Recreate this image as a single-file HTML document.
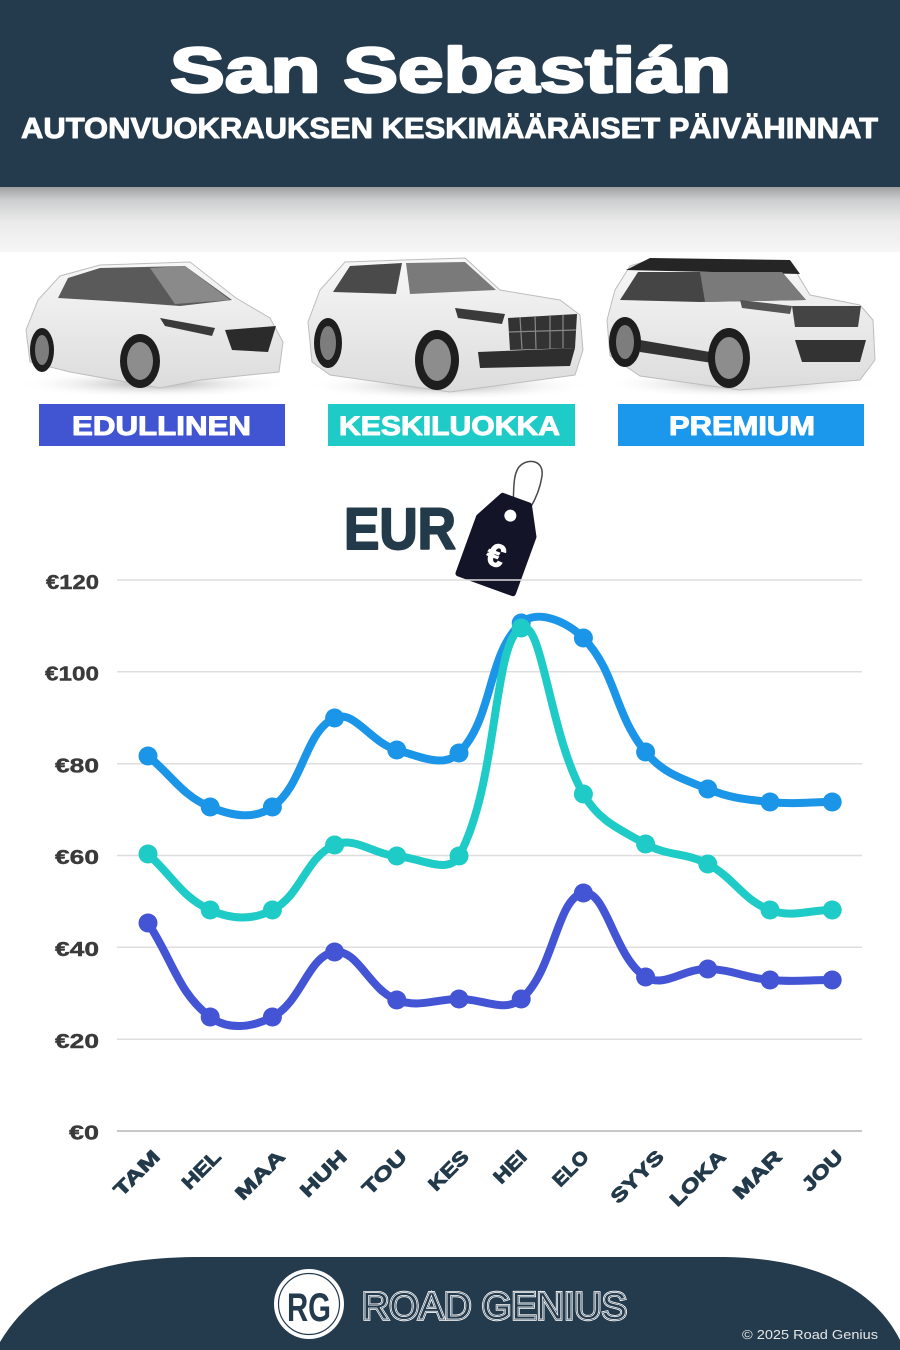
<!DOCTYPE html>
<html><head><meta charset="utf-8"><style>
html,body{margin:0;padding:0;background:#fff;}
svg{display:block;}
</style></head><body>
<svg width="900" height="1350" viewBox="0 0 900 1350" xmlns="http://www.w3.org/2000/svg">
<defs>
<linearGradient id="band" x1="0" y1="0" x2="0" y2="1">
<stop offset="0" stop-color="#9ea0a2"/>
<stop offset="0.2" stop-color="#cdcecf"/>
<stop offset="0.55" stop-color="#ebebeb"/>
<stop offset="1" stop-color="#f6f6f6"/>
</linearGradient>
<radialGradient id="shadow" cx="0.5" cy="0.5" r="0.5">
<stop offset="0" stop-color="#9a9a9a" stop-opacity="0.8"/>
<stop offset="1" stop-color="#ffffff" stop-opacity="0"/>
</radialGradient>
<linearGradient id="body" x1="0" y1="0" x2="0" y2="1">
<stop offset="0" stop-color="#f7f7f7"/>
<stop offset="1" stop-color="#dcdcdc"/>
</linearGradient>
</defs>

<!-- header -->
<rect x="0" y="0" width="900" height="187" fill="#243a4d"/>
<rect x="0" y="187" width="900" height="65" fill="url(#band)"/>
<text x="170" y="92" font-family="Liberation Sans, sans-serif" font-weight="bold" font-size="63" fill="#fff" stroke="#fff" stroke-width="2.6" stroke-linejoin="round" textLength="561" lengthAdjust="spacingAndGlyphs">San Sebastián</text>
<text x="21" y="138" font-family="Liberation Sans, sans-serif" font-weight="bold" font-size="29" fill="#fff" stroke="#fff" stroke-width="0.9" stroke-linejoin="round" textLength="857" lengthAdjust="spacingAndGlyphs">AUTONVUOKRAUKSEN KESKIMÄÄRÄISET PÄIVÄHINNAT</text>

<!-- car shadows -->
<ellipse cx="155" cy="384" rx="140" ry="14" fill="url(#shadow)"/>
<ellipse cx="447" cy="386" rx="145" ry="14" fill="url(#shadow)"/>
<ellipse cx="742" cy="384" rx="140" ry="14" fill="url(#shadow)"/>

<!-- car 1 -->
<g>
<path d="M30,362 L26,330 L38,300 L60,276 L100,265 L190,262 L236,298 L270,318 L283,342 L279,372 L200,380 L160,388 L70,372 Z" fill="url(#body)" stroke="#bdbdbd" stroke-width="1"/>
<path d="M58,298 L68,278 L100,268 L185,266 L232,300 L180,306 L125,302 Z" fill="#5a5a5a"/>
<path d="M150,268 L185,266 L230,300 L175,304 Z" fill="#8a8a8a"/>
<path d="M225,330 L276,326 L268,352 L232,350 Z" fill="#2b2b2b"/>
<path d="M160,318 L215,328 L212,336 L165,326 Z" fill="#3a3a3a"/>
<ellipse cx="140" cy="361" rx="20" ry="27" fill="#1e1e1e"/>
<ellipse cx="140" cy="361" rx="13" ry="19" fill="#8d8d8d"/>
<ellipse cx="42" cy="350" rx="12" ry="22" fill="#1e1e1e"/>
<ellipse cx="42" cy="350" rx="7" ry="15" fill="#7d7d7d"/>
</g>

<!-- car 2 -->
<g>
<path d="M312,362 L308,322 L320,290 L345,262 L465,258 L500,290 L560,300 L580,315 L583,350 L575,375 L450,392 L330,375 Z" fill="url(#body)" stroke="#bdbdbd" stroke-width="1"/>
<path d="M333,292 L350,266 L402,263 L396,294 Z" fill="#4a4a4a"/>
<path d="M406,263 L465,262 L496,290 L410,294 Z" fill="#7a7a7a"/>
<path d="M508,318 L577,314 L575,348 L510,350 Z" fill="#333"/>
<path d="M520,317 L522,349 M535,316 L536,349 M550,315 L550,349 M563,315 L563,348 M509,332 L576,330" stroke="#888" stroke-width="1.2"/>
<path d="M455,308 L505,314 L502,324 L458,318 Z" fill="#3a3a3a"/>
<path d="M478,352 L575,348 L570,366 L480,368 Z" fill="#2e2e2e"/>
<ellipse cx="437" cy="360" rx="22" ry="30" fill="#1e1e1e"/>
<ellipse cx="437" cy="360" rx="14" ry="21" fill="#8d8d8d"/>
<ellipse cx="328" cy="343" rx="14" ry="25" fill="#1e1e1e"/>
<ellipse cx="328" cy="343" rx="8" ry="17" fill="#7d7d7d"/>
</g>

<!-- car 3 -->
<g>
<path d="M610,356 L607,320 L615,290 L630,266 L650,260 L790,262 L810,295 L860,305 L873,320 L875,360 L860,380 L740,390 L640,376 Z" fill="url(#body)" stroke="#bdbdbd" stroke-width="1"/>
<path d="M626,270 L650,258 L790,260 L800,274 Z" fill="#252525"/>
<path d="M620,300 L638,272 L782,272 L806,300 L700,302 Z" fill="#454545"/>
<path d="M700,272 L782,272 L806,300 L705,302 Z" fill="#7a7a7a"/>
<path d="M792,306 L861,306 L858,327 L795,327 Z" fill="#444"/>
<path d="M740,300 L792,306 L790,314 L742,308 Z" fill="#555"/>
<path d="M640,340 L745,358 L745,368 L640,352 Z" fill="#333"/>
<path d="M795,340 L866,340 L860,362 L802,362 Z" fill="#333"/>
<ellipse cx="729" cy="358" rx="21" ry="30" fill="#1e1e1e"/>
<ellipse cx="729" cy="358" rx="14" ry="21" fill="#8d8d8d"/>
<ellipse cx="625" cy="342" rx="16" ry="25" fill="#1e1e1e"/>
<ellipse cx="625" cy="342" rx="9" ry="17" fill="#7d7d7d"/>
</g>

<!-- category boxes -->
<rect x="39" y="404" width="246" height="42" fill="#4155d2"/>
<rect x="328" y="404" width="247" height="42" fill="#1ecbc7"/>
<rect x="618" y="404" width="246" height="42" fill="#1b98ec"/>
<g font-family="Liberation Sans, sans-serif" font-weight="bold" font-size="27" fill="#fff" stroke="#fff" stroke-width="1" stroke-linejoin="round">
<text x="72" y="435" textLength="179" lengthAdjust="spacingAndGlyphs">EDULLINEN</text>
<text x="339" y="435" textLength="221" lengthAdjust="spacingAndGlyphs">KESKILUOKKA</text>
<text x="669" y="435" textLength="146" lengthAdjust="spacingAndGlyphs">PREMIUM</text>
</g>

<!-- EUR + tag -->
<text x="344" y="549" font-family="Liberation Sans, sans-serif" font-weight="bold" font-size="58" fill="#233a4b" stroke="#233a4b" stroke-width="2" stroke-linejoin="round" textLength="112" lengthAdjust="spacingAndGlyphs">EUR</text>
<path d="M513,514 C514,492 512,472 521,465 C530,458 544,461 542,476 C540,490 534,502 529,510" fill="none" stroke="#4a4a4a" stroke-width="1.5"/>
<g transform="translate(485.7,583.3) rotate(20)">
<path d="M-29,0 L29,0 L29,-60 L14,-88 L-14,-88 L-29,-60 Z" fill="#141428" stroke="#141428" stroke-width="6" stroke-linejoin="round"/>
<circle cx="0" cy="-72" r="6" fill="#fff"/>
<text x="0" y="-19" text-anchor="middle" font-family="Liberation Sans, sans-serif" font-weight="bold" font-size="32" fill="#fff" stroke="#fff" stroke-width="1">€</text>
</g>

<!-- gridlines -->
<g stroke="#dedede" stroke-width="1.5">
<line x1="117" y1="580" x2="862" y2="580"/>
<line x1="117" y1="671.8" x2="862" y2="671.8"/>
<line x1="117" y1="763.7" x2="862" y2="763.7"/>
<line x1="117" y1="855.5" x2="862" y2="855.5"/>
<line x1="117" y1="947.3" x2="862" y2="947.3"/>
<line x1="117" y1="1039.2" x2="862" y2="1039.2"/>
</g>
<line x1="117" y1="1131" x2="862" y2="1131" stroke="#c8c8c8" stroke-width="2"/>

<!-- y labels -->
<g font-family="Liberation Sans, sans-serif" font-weight="bold" font-size="20" fill="#3a3a3a" stroke="#3a3a3a" stroke-width="0.4" text-anchor="end">
<text x="99" y="589" textLength="53" lengthAdjust="spacingAndGlyphs">€120</text>
<text x="99" y="680.5" textLength="54" lengthAdjust="spacingAndGlyphs">€100</text>
<text x="99" y="772.3" textLength="44" lengthAdjust="spacingAndGlyphs">€80</text>
<text x="99" y="864" textLength="44" lengthAdjust="spacingAndGlyphs">€60</text>
<text x="99" y="956" textLength="44" lengthAdjust="spacingAndGlyphs">€40</text>
<text x="99" y="1048" textLength="44" lengthAdjust="spacingAndGlyphs">€20</text>
<text x="99" y="1139.5" textLength="30" lengthAdjust="spacingAndGlyphs">€0</text>
</g>

<!-- series: premium -->
<g fill="none" stroke-width="8" stroke-linecap="round" stroke-linejoin="round">
<path stroke="#1a95e8" d="M148,756 C172.88,776.4 182.14,795.5 210.2,807 C231.9,815.9 254.28,819.97 272.4,807 C304.04,784.37 304.33,731.87 334.6,718 C354.09,709.07 370.48,742.59 396.8,750 C420.24,756.59 443.98,768.33 459,753 C493.74,717.53 486.74,654.86 521.2,623 C536.5,608.85 566.98,620.97 583.4,638 C616.74,672.57 613.64,713.21 645.6,752 C663.4,773.61 681.3,778.35 707.8,789 C731.06,798.35 744.86,799.37 770,802 C794.62,804.57 807.32,802 832.2,802"/>
</g>
<g fill="#1a95e8">
<circle cx="148" cy="756" r="9.5"/><circle cx="210.2" cy="807" r="9.5"/><circle cx="272.4" cy="807" r="9.5"/><circle cx="334.6" cy="718" r="9.5"/><circle cx="396.8" cy="750" r="9.5"/><circle cx="459" cy="753" r="9.5"/><circle cx="521.2" cy="623" r="9.5"/><circle cx="583.4" cy="638" r="9.5"/><circle cx="645.6" cy="752" r="9.5"/><circle cx="707.8" cy="789" r="9.5"/><circle cx="770" cy="802" r="9.5"/><circle cx="832.2" cy="802" r="9.5"/>
</g>

<!-- series: mid -->
<g fill="none" stroke-width="8" stroke-linecap="round" stroke-linejoin="round">
<path stroke="#1ecbc7" d="M148,854 C172.88,876.4 181.65,897.15 210.2,910 C231.41,919.55 252.06,920.63 272.4,910 C301.82,894.63 305.37,857.69 334.6,845 C355.13,836.09 371.72,853.78 396.8,856 C421.48,858.18 448.64,874.99 459,856 C498.4,783.79 492.76,642.17 521.2,628 C542.52,617.37 549.09,734.43 583.4,794 C598.85,820.83 618.24,828.61 645.6,844 C668,856.61 685.01,851.91 707.8,864 C734.77,878.31 742.42,899.8 770,910 C792.18,918.2 807.32,910 832.2,910"/>
</g>
<g fill="#1ecbc7">
<circle cx="148" cy="854" r="9.5"/><circle cx="210.2" cy="910" r="9.5"/><circle cx="272.4" cy="910" r="9.5"/><circle cx="334.6" cy="845" r="9.5"/><circle cx="396.8" cy="856" r="9.5"/><circle cx="459" cy="856" r="9.5"/><circle cx="521.2" cy="628" r="9.5"/><circle cx="583.4" cy="794" r="9.5"/><circle cx="645.6" cy="844" r="9.5"/><circle cx="707.8" cy="864" r="9.5"/><circle cx="770" cy="910" r="9.5"/><circle cx="832.2" cy="910" r="9.5"/>
</g>

<!-- series: economy -->
<g fill="none" stroke-width="8" stroke-linecap="round" stroke-linejoin="round">
<path stroke="#4354d4" d="M148,923 C172.88,960.6 178.13,992.77 210.2,1017 C227.89,1030.37 252.06,1027.63 272.4,1017 C301.82,1001.63 308.04,955.63 334.6,952 C357.8,948.83 369.03,989.51 396.8,1000 C418.79,1008.31 434.12,999.2 459,999 C483.88,998.8 504.48,1013.25 521.2,999 C554.24,970.85 556.5,897.76 583.4,893 C606.26,888.96 614.5,958 645.6,977 C664.26,988.4 683.01,968.4 707.8,969 C732.77,969.6 744.92,977.78 770,980 C794.68,982.18 807.32,980 832.2,980"/>
</g>
<g fill="#4354d4">
<circle cx="148" cy="923" r="9.5"/><circle cx="210.2" cy="1017" r="9.5"/><circle cx="272.4" cy="1017" r="9.5"/><circle cx="334.6" cy="952" r="9.5"/><circle cx="396.8" cy="1000" r="9.5"/><circle cx="459" cy="999" r="9.5"/><circle cx="521.2" cy="999" r="9.5"/><circle cx="583.4" cy="893" r="9.5"/><circle cx="645.6" cy="977" r="9.5"/><circle cx="707.8" cy="969" r="9.5"/><circle cx="770" cy="980" r="9.5"/><circle cx="832.2" cy="980" r="9.5"/>
</g>

<!-- x labels -->
<g font-family="Liberation Sans, sans-serif" font-weight="bold" font-size="19" fill="#233a4b" stroke="#233a4b" stroke-width="0.9" stroke-linejoin="round" text-anchor="end">
<text transform="translate(161,1158) rotate(-45)" textLength="56" lengthAdjust="spacingAndGlyphs">TAM</text>
<text transform="translate(222,1158) rotate(-45)" textLength="46" lengthAdjust="spacingAndGlyphs">HEL</text>
<text transform="translate(286,1158) rotate(-45)" textLength="61" lengthAdjust="spacingAndGlyphs">MAA</text>
<text transform="translate(348,1158) rotate(-45)" textLength="57" lengthAdjust="spacingAndGlyphs">HUH</text>
<text transform="translate(408,1158) rotate(-45)" textLength="54" lengthAdjust="spacingAndGlyphs">TOU</text>
<text transform="translate(470,1158) rotate(-45)" textLength="48" lengthAdjust="spacingAndGlyphs">KES</text>
<text transform="translate(528,1158) rotate(-45)" textLength="38" lengthAdjust="spacingAndGlyphs">HEI</text>
<text transform="translate(590,1158) rotate(-45)" textLength="42" lengthAdjust="spacingAndGlyphs">ELO</text>
<text transform="translate(665,1158) rotate(-45)" textLength="66" lengthAdjust="spacingAndGlyphs">SYYS</text>
<text transform="translate(727,1158) rotate(-45)" textLength="70" lengthAdjust="spacingAndGlyphs">LOKA</text>
<text transform="translate(783,1158) rotate(-45)" textLength="60" lengthAdjust="spacingAndGlyphs">MAR</text>
<text transform="translate(844,1158) rotate(-45)" textLength="49" lengthAdjust="spacingAndGlyphs">JOU</text>
</g>

<!-- footer -->
<path d="M0,1350 L0,1342 C40,1275 110,1258 195,1257 L725,1257 C800,1258 870,1280 900,1340 L900,1350 Z" fill="#243a4d"/>
<circle cx="309" cy="1304" r="35" fill="#fff"/>
<circle cx="309" cy="1304" r="30.5" fill="none" stroke="#243a4d" stroke-width="1.2"/>
<text x="309" y="1321" text-anchor="middle" font-family="Liberation Sans, sans-serif" font-weight="bold" font-size="40" fill="#243a4d" textLength="44" lengthAdjust="spacingAndGlyphs">RG</text>
<g font-family="Liberation Sans, sans-serif" font-weight="normal" font-size="38">
<text x="362" y="1319" textLength="265" lengthAdjust="spacingAndGlyphs" fill="none" stroke="#ffffff" stroke-width="3.4">ROAD GENIUS</text>
<text x="362" y="1319" textLength="265" lengthAdjust="spacingAndGlyphs" fill="#243a4d" stroke="#243a4d" stroke-width="1.8">ROAD GENIUS</text>
<text x="362" y="1319" textLength="265" lengthAdjust="spacingAndGlyphs" fill="none" stroke="#ffffff" stroke-width="0.7">ROAD GENIUS</text>
</g>
<text x="742" y="1339" font-family="Liberation Sans, sans-serif" font-size="12.5" fill="#e6e6e6" textLength="136" lengthAdjust="spacingAndGlyphs">© 2025 Road Genius</text>
</svg>
</body></html>
